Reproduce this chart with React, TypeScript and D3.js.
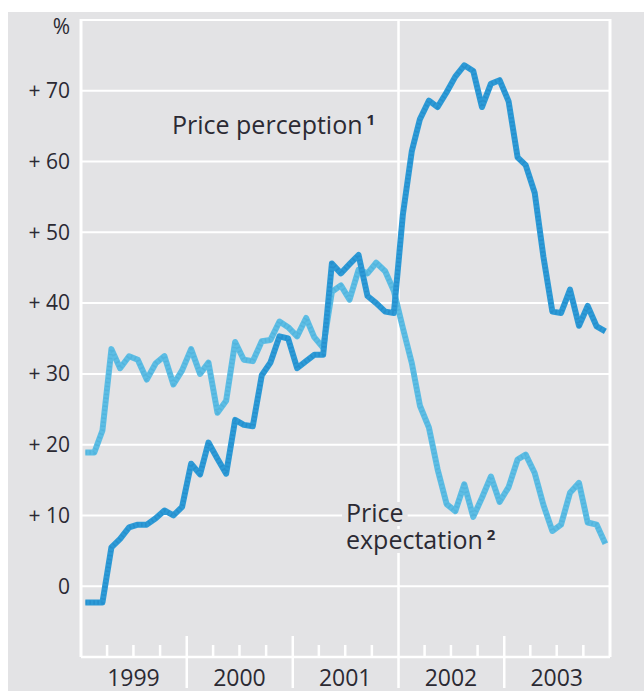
import React, { useEffect, useRef } from "react";
import * as d3 from "d3";

// monthly values, Jan 1999 - Dec 2003 (% balance)
const perception = [
  -2.3, -2.3, -2.3, 5.5, 6.7, 8.3, 8.7, 8.7, 9.6, 10.7, 10.0, 11.2,
  17.3, 15.8, 20.3, 18.0, 15.9, 23.5, 22.8, 22.6, 29.8, 31.6, 35.3, 35.0,
  30.8, 31.8, 32.7, 32.7, 45.6, 44.2, 45.5, 46.8, 41.0, 40.0, 38.8, 38.6,
  52.5, 61.5, 66.0, 68.6, 67.7, 69.8, 72.0, 73.6, 72.8, 67.7, 71.0, 71.5,
  68.5, 60.6, 59.5, 55.6, 46.6, 38.8, 38.6, 41.9, 36.8, 39.6, 36.7, 36.0,
];
const expectation = [
  18.9, 18.9, 22.0, 33.5, 30.8, 32.5, 32.0, 29.2, 31.5, 32.5, 28.5, 30.5,
  33.5, 30.0, 31.6, 24.5, 26.2, 34.5, 32.0, 31.8, 34.6, 34.8, 37.4, 36.6,
  35.3, 37.9, 35.2, 33.7, 41.6, 42.5, 40.5, 44.7, 44.2, 45.7, 44.5, 41.7,
  36.5, 31.5, 25.5, 22.4, 16.5, 11.6, 10.6, 14.4, 9.8, 12.5, 15.5, 11.9,
  14.0, 17.9, 18.6, 16.0, 11.5, 7.8, 8.7, 13.2, 14.6, 9.0, 8.7, 6.0,
];
const years = [1999, 2000, 2001, 2002, 2003];
const yTicks = [0, 10, 20, 30, 40, 50, 60, 70];

const App = () => {
  const ref = useRef(null);

  useEffect(() => {
    const width = 644;
    const height = 691;
    const left = 81;
    const right = 610;
    const top = 20;
    const bottom = 657;
    const font = "'Open Sans', 'DejaVu Sans', sans-serif";
    const textColor = "#2b2a33";
    const bg = "#e3e3e5";

    d3.select(ref.current).selectAll("*").remove();

    const svg = d3
      .select(ref.current)
      .append("svg")
      .attr("width", width)
      .attr("height", height)
      .style("position", "absolute")
      .style("left", 0)
      .style("top", 0);

    // grey panel
    svg.append("rect").attr("x", 8).attr("y", 12).attr("width", width - 8).attr("height", height - 12).attr("fill", bg);

    const x = d3
      .scaleTime()
      .domain([new Date(1999, 0, 1), new Date(2004, 0, 1)])
      .range([left, right]);
    const y = d3.scaleLinear().domain([-10, 80]).range([bottom, top]);

    const months = perception.map((_, i) => new Date(1999, i, 16));

    // horizontal grid
    svg
      .append("g")
      .selectAll("line")
      .data([...yTicks, 80])
      .join("line")
      .attr("x1", left)
      .attr("x2", right)
      .attr("y1", (d) => y(d))
      .attr("y2", (d) => y(d))
      .attr("stroke", "#fff")
      .attr("stroke-width", 2);

    // frame verticals
    [left, right].forEach((xx) => {
      svg.append("line").attr("x1", xx).attr("x2", xx).attr("y1", top - 1).attr("y2", bottom)
        .attr("stroke", "#fff").attr("stroke-width", 3);
    });
    // 2002 divider
    svg.append("line").attr("x1", x(new Date(2002, 0, 1))).attr("x2", x(new Date(2002, 0, 1)))
      .attr("y1", top - 1).attr("y2", 688).attr("stroke", "#fff").attr("stroke-width", 2.5);

    // bottom axis
    svg.append("line").attr("x1", left).attr("x2", right).attr("y1", bottom).attr("y2", bottom)
      .attr("stroke", "#fff").attr("stroke-width", 2.5);

    const quarters = d3.timeMonth.every(3).range(new Date(1999, 0, 1), new Date(2004, 0, 1))
      .filter((d) => d.getMonth() !== 0);
    svg.append("g").selectAll("line").data(quarters).join("line")
      .attr("x1", (d) => x(d)).attr("x2", (d) => x(d))
      .attr("y1", bottom - 12).attr("y2", bottom)
      .attr("stroke", "#fff").attr("stroke-width", 2.5);

    const yearStarts = [2000, 2001, 2003].map((yr) => new Date(yr, 0, 1));
    svg.append("g").selectAll("line").data(yearStarts).join("line")
      .attr("x1", (d) => x(d)).attr("x2", (d) => x(d))
      .attr("y1", bottom - 21).attr("y2", 688)
      .attr("stroke", "#fff").attr("stroke-width", 2.5);

    svg.append("g").selectAll("text").data(years).join("text")
      .attr("x", (d) => x(new Date(d, 6, 1)))
      .attr("y", 686)
      .attr("text-anchor", "middle")
      .style("font-family", font)
      .style("font-size", "23px")
      .style("fill", textColor)
      .text((d) => d);

    // y tick labels
    svg.append("g").selectAll("text").data(yTicks).join("text")
      .attr("x", 70)
      .attr("y", (d) => y(d))
      .attr("dy", "0.35em")
      .attr("text-anchor", "end")
      .style("font-family", font)
      .style("font-size", "21px")
      .style("fill", textColor)
      .text((d) => (d === 0 ? "0" : `+ ${d}`));

    svg.append("text").attr("x", 70).attr("y", 27).attr("dy", "0.35em").attr("text-anchor", "end")
      .style("font-family", font).style("font-size", "21px").style("fill", textColor).text("%");

    // series labels (drawn under the lines, grey backing hides gridlines)
    const label = (lines, lx, ly, sup) => {
      const g = svg.append("g");
      lines.forEach((s, i) => {
        const last = i === lines.length - 1;
        const r = g.append("rect").attr("fill", bg);
        const t = g.append("text").attr("x", lx).attr("y", ly + i * 27)
          .style("font-family", font).style("font-size", "25px").style("fill", textColor);
        t.append("tspan").text(s);
        if (last) {
          t.append("tspan").attr("dx", 4).attr("dy", -9).style("font-size", "15px")
            .style("font-weight", "bold").text(sup);
        }
        const b = t.node().getBBox();
        r.attr("x", b.x - 4).attr("y", ly + i * 27 - 20).attr("width", b.width + 8).attr("height", 24);
      });
    };
    label(["Price perception"], 172, 134, "1");
    label(["Price", "expectation"], 346, 522, "2");

    const line = d3
      .line()
      .x((d, i) => x(months[i]))
      .y((d) => y(d))
      .curve(d3.curveLinear);

    const drawSeries = (values, color, dark) => {
      svg.append("path").datum(values).attr("fill", "none").attr("stroke", color)
        .attr("stroke-width", 6).attr("stroke-linejoin", "round").attr("d", line);
      svg.append("path").datum(values).attr("fill", "none").attr("stroke", dark)
        .attr("stroke-width", 4).attr("stroke-dasharray", "1.5 2.5").attr("opacity", 0.3)
        .attr("stroke-linejoin", "round").attr("d", line);
    };
    drawSeries(expectation, "#5dbde4", "#3a9fcc");
    drawSeries(perception, "#2d9ad6", "#1877b8");
  }, []);

  return <div ref={ref}></div>;
};

export default App;
